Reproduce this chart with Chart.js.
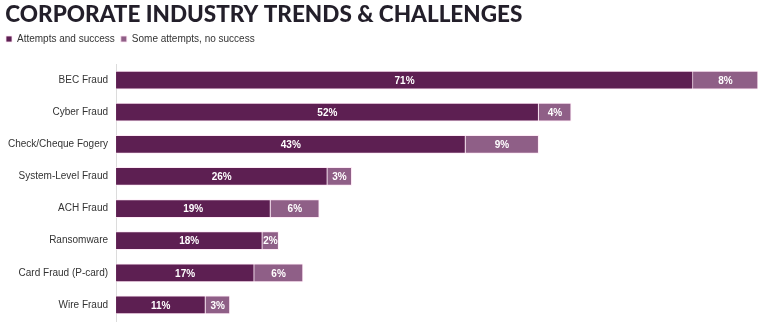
<!DOCTYPE html>
<html>
<head>
<meta charset="utf-8">
<script src="https://cdn.jsdelivr.net/npm/chart.js@4"></script>
<style>
  html, body { margin: 0; padding: 0; background: #fff; }
  #wrap { width: 763px; height: 328px; position: relative; }
</style>
</head>
<body>
<div id="wrap"><canvas id="chart"></canvas></div>
<script>
const categories = ['BEC Fraud', 'Cyber Fraud', 'Check/Cheque Fogery', 'System-Level Fraud', 'ACH Fraud', 'Ransomware', 'Card Fraud (P-card)', 'Wire Fraud'];
const successValues = [71, 52, 43, 26, 19, 18, 17, 11];
const noSuccessValues = [8, 4, 9, 3, 6, 2, 6, 3];
const seriesNames = ['Attempts and success', 'Some attempts, no success'];

const darkPurple = '#5d1f52';
const lightPurple = '#8f5f87';

// writes the % value in the middle of every bar segment
const barLabels = {
    id: 'barLabels',
    afterDatasetsDraw(chart) {
        const ctx = chart.ctx;
        ctx.save();
        ctx.font = 'bold 10px "Liberation Sans", Arial, sans-serif';
        ctx.fillStyle = '#ffffff';
        ctx.textAlign = 'center';
        ctx.textBaseline = 'middle';
        chart.data.datasets.forEach((ds, i) => {
            chart.getDatasetMeta(i).data.forEach((bar, j) => {
                const x = (bar.x + bar.base) / 2;
                ctx.fillText(ds.data[j] + '%', x, bar.y + 1);
            });
        });
        ctx.restore();
    }
};

// extra room between the legend and the bars
const legendGap = {
    id: 'legendGap',
    beforeInit(chart) {
        const fit = chart.legend.fit;
        chart.legend.fit = function () {
            fit.bind(chart.legend)();
            this.height += 10;
        };
    }
};

new Chart(document.getElementById('chart'), {
    type: 'bar',
    data: {
        labels: categories,
        datasets: [
            {
                label: seriesNames[0],
                data: successValues,
                backgroundColor: darkPurple,
                borderColor: 'rgba(255, 230, 245, 0.8)',
                borderWidth: 1,
                barThickness: 18
            },
            {
                label: seriesNames[1],
                data: noSuccessValues,
                backgroundColor: lightPurple,
                borderColor: 'rgba(255, 230, 245, 0.8)',
                borderWidth: 1,
                barThickness: 18
            }
        ]
    },
    options: {
        indexAxis: 'y',
        responsive: true,
        maintainAspectRatio: false,
        animation: false,
        layout: {
            padding: { left: 0, right: 5, top: 0, bottom: 7 }
        },
        scales: {
            x: {
                stacked: true,
                min: 0,
                max: 79,
                display: false
            },
            y: {
                stacked: true,
                grid: { display: false, drawTicks: false },
                border: { display: true, color: '#dcdcdc', width: 1 },
                ticks: {
                    padding: 8,
                    color: '#333333',
                    font: { family: '"Liberation Sans", Arial, sans-serif', size: 10 }
                },
                afterFit(scale) {
                    scale.paddingTop = 0;
                    scale.paddingBottom = 0;
                }
            }
        },
        plugins: {
            title: {
                display: true,
                text: ' CORPORATE INDUSTRY TRENDS & CHALLENGES',
                align: 'start',
                color: '#231f2a',
                font: { family: 'Lato, sans-serif', size: 22.5, weight: '900' },
                padding: { top: 1, bottom: 0 }
            },
            legend: {
                display: true,
                align: 'start',
                labels: {
                    boxWidth: 6,
                    boxHeight: 6,
                    padding: 6,
                    color: '#333333',
                    font: { family: '"Liberation Sans", Arial, sans-serif', size: 10 }
                }
            },
            tooltip: { enabled: false }
        }
    },
    plugins: [barLabels, legendGap]
});
</script>
</body>
</html>
